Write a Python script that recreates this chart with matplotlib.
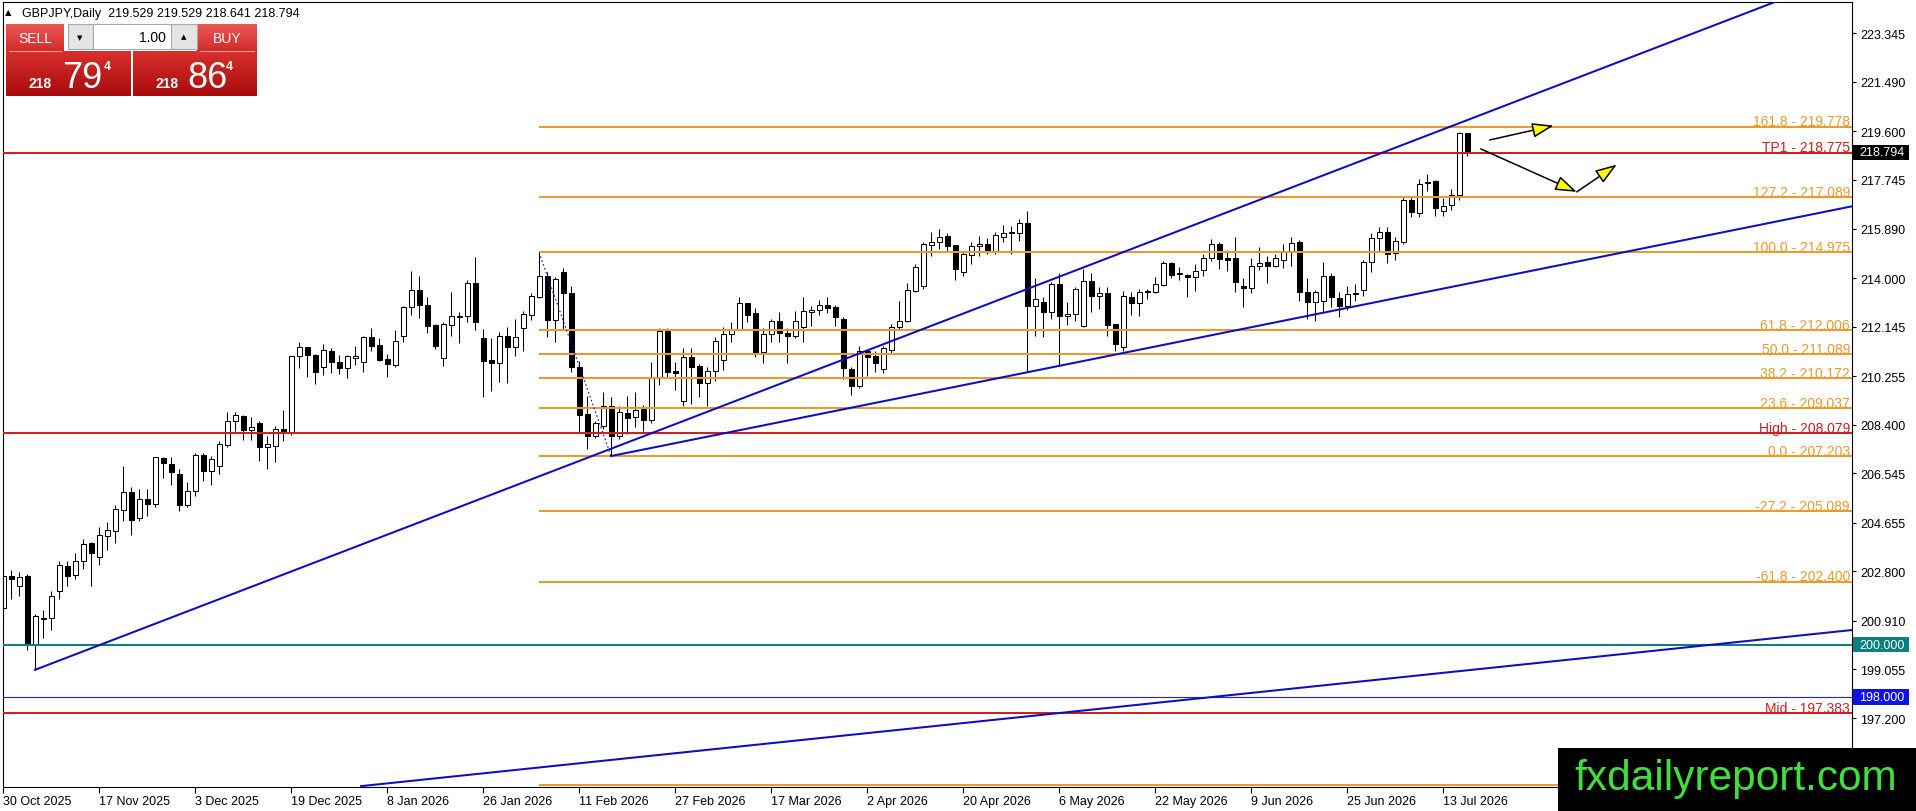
import numpy as np
import matplotlib
matplotlib.use("Agg")
import matplotlib.pyplot as plt
import matplotlib.transforms as mtransforms
from matplotlib.colors import to_rgb
from matplotlib.patches import Rectangle, FancyArrowPatch

plt.rcParams['font.family'] = ['Liberation Sans', 'DejaVu Sans']

W, H = 1916, 812

# daily GBPJPY bars (bar 0 = 30 Oct 2025)
opens = [201.39, 202.61, 202.25, 202.61, 200.03, 201.00, 201.01, 202.04, 202.99, 202.67,
         203.21, 203.88, 203.34, 204.16, 204.35, 205.15, 205.82, 204.83, 205.56, 205.38,
         207.12, 206.90, 206.51, 205.34, 205.88, 207.24, 206.64, 206.83, 207.64, 208.55,
         208.74, 208.21, 208.46, 207.56, 207.60, 208.24, 208.11, 211.04, 211.36, 211.07,
         210.61, 211.20, 210.79, 210.58, 210.94, 210.81, 211.74, 211.44, 210.91, 210.69,
         211.80, 212.88, 213.53, 212.96, 212.20, 210.96, 212.20, 212.53, 212.54, 213.80,
         211.70, 210.86, 210.74, 211.78, 211.36, 212.08, 212.60, 213.29, 214.09, 212.41,
         214.22, 213.42, 210.59, 208.81, 207.98, 208.36, 209.12, 207.96, 208.83, 208.68,
         208.99, 208.59, 210.21, 211.99, 210.46, 209.29, 210.97, 210.63, 209.98, 210.44,
         210.87, 211.86, 212.03, 213.04, 212.65, 211.19, 211.85, 212.35, 211.90, 211.80,
         212.12, 212.69, 212.79, 212.98, 212.88, 212.43, 210.53, 209.89, 211.20, 211.04,
         210.53, 211.26, 212.12, 212.35, 213.52, 213.70, 215.27, 215.39, 215.59, 215.26,
         214.22, 214.88, 215.21, 215.30, 215.00, 215.56, 215.72, 215.72, 216.10, 212.94,
         213.07, 212.69, 213.77, 212.54, 212.63, 212.18, 213.90, 213.33, 213.43, 212.24,
         211.36, 213.29, 213.04, 213.45, 213.45, 213.73, 214.57, 214.14, 214.11, 214.03,
         214.32, 214.75, 215.30, 214.75, 214.75, 213.71, 213.61, 214.47, 214.60, 214.45,
         214.70, 215.02, 215.36, 213.48, 213.07, 213.13, 214.09, 213.22, 212.94, 213.43,
         213.55, 214.62, 215.52, 215.77, 214.95, 215.36, 216.99, 216.47, 217.63, 217.69,
         216.55, 216.79, 217.18, 219.529]
highs = [203.21, 202.85, 202.79, 202.70, 201.17, 201.34, 202.05, 203.18, 203.21, 203.50,
         204.03, 203.91, 204.48, 204.67, 205.33, 206.81, 206.01, 205.94, 205.94, 207.17,
         207.15, 207.15, 206.70, 206.20, 207.32, 207.32, 207.21, 207.79, 208.87, 208.87,
         208.77, 208.68, 208.53, 207.98, 208.36, 208.96, 211.03, 211.55, 211.37, 211.10,
         211.49, 211.31, 211.06, 211.06, 211.39, 211.78, 212.08, 211.70, 211.10, 212.00,
         212.94, 214.27, 214.06, 213.26, 212.24, 212.33, 213.45, 212.71, 213.92, 214.79,
         212.05, 211.71, 211.95, 212.12, 212.44, 212.76, 213.43, 214.975, 214.22, 214.03,
         214.38, 213.71, 210.83, 209.48, 208.55, 209.64, 209.45, 209.10, 209.48, 209.64,
         209.15, 210.78, 212.08, 212.08, 210.80, 211.32, 211.32, 210.72, 210.59, 211.74,
         212.12, 212.33, 213.26, 213.06, 212.85, 212.08, 212.44, 212.69, 212.09, 212.73,
         213.26, 212.94, 213.17, 213.26, 212.97, 212.50, 210.61, 211.42, 211.26, 211.23,
         211.42, 212.24, 213.13, 213.81, 214.53, 215.36, 215.77, 215.87, 215.71, 215.28,
         215.04, 215.39, 215.62, 215.52, 215.74, 216.02, 215.97, 216.25, 216.55, 214.00,
         213.26, 213.84, 214.19, 213.07, 213.67, 214.34, 214.19, 213.65, 213.65, 212.24,
         213.52, 213.45, 213.58, 213.60, 214.03, 214.66, 214.62, 214.41, 214.15, 214.53,
         214.92, 215.49, 215.36, 215.08, 215.55, 213.99, 214.75, 215.17, 214.85, 214.92,
         215.30, 215.55, 215.45, 213.99, 213.54, 214.60, 214.19, 213.48, 213.68, 213.77,
         214.70, 215.71, 215.94, 215.94, 215.55, 217.14, 217.14, 217.78, 217.97, 217.74,
         217.04, 217.40, 219.56, 219.529]
lows = [200.92, 201.74, 201.87, 199.81, 199.04, 200.24, 200.57, 201.74, 202.25, 202.51,
        202.89, 202.25, 203.04, 203.61, 203.88, 204.73, 204.20, 204.72, 204.92, 205.27,
        206.37, 206.09, 205.12, 205.27, 205.69, 206.26, 206.09, 206.51, 207.54, 208.17,
        207.81, 207.81, 207.02, 206.70, 206.98, 207.79, 208.01, 210.56, 210.23, 209.95,
        210.30, 210.37, 210.34, 210.19, 210.69, 210.43, 211.21, 210.85, 210.23, 210.61,
        211.57, 212.59, 212.48, 211.90, 211.29, 210.64, 211.80, 211.52, 212.33, 212.03,
        209.46, 209.69, 210.02, 209.98, 211.04, 211.22, 212.41, 213.23, 211.74, 211.55,
        212.05, 210.43, 208.10, 207.47, 207.88, 208.22, 207.203, 207.85, 208.04, 208.32,
        208.17, 208.46, 209.92, 210.18, 209.73, 209.10, 209.19, 209.45, 209.12, 210.08,
        210.49, 211.55, 212.02, 212.33, 211.00, 210.74, 211.57, 211.57, 210.74, 211.70,
        211.55, 212.18, 212.59, 212.65, 212.18, 210.14, 209.54, 209.79, 210.27, 210.43,
        210.37, 211.14, 212.05, 212.32, 213.47, 213.60, 214.85, 215.11, 215.04, 213.92,
        214.09, 214.54, 214.85, 214.92, 214.92, 215.39, 214.92, 215.42, 210.40, 211.77,
        211.74, 212.43, 210.65, 212.20, 212.37, 212.14, 212.69, 212.82, 211.80, 211.22,
        211.22, 212.59, 212.56, 213.20, 213.42, 213.70, 213.99, 213.92, 213.26, 213.52,
        214.09, 214.66, 214.34, 214.28, 213.45, 212.88, 213.42, 214.32, 213.80, 214.44,
        214.37, 214.47, 213.13, 212.44, 212.37, 212.69, 212.88, 212.50, 212.79, 213.13,
        213.32, 214.24, 215.04, 214.56, 214.69, 215.30, 216.32, 216.32, 217.31, 216.38,
        216.38, 216.61, 216.98, 218.641]
closes = [202.63, 202.51, 202.57, 200.00, 201.08, 201.02, 201.85, 203.04, 202.63, 203.21,
          203.84, 203.49, 204.19, 204.38, 205.18, 205.82, 204.77, 205.56, 205.38, 207.15,
          206.92, 206.60, 205.34, 205.86, 207.24, 206.64, 207.09, 207.66, 208.55, 208.77,
          208.19, 208.30, 207.56, 207.66, 208.24, 208.11, 211.01, 211.36, 211.07, 210.43,
          211.24, 210.81, 210.58, 211.01, 211.01, 211.74, 211.42, 210.87, 210.73, 211.58,
          212.88, 213.53, 212.97, 212.18, 211.42, 212.23, 212.54, 212.55, 213.80, 212.33,
          210.84, 210.74, 211.78, 211.38, 211.74, 212.62, 213.30, 214.09, 212.41, 213.96,
          213.42, 210.59, 208.78, 207.98, 208.45, 209.12, 207.96, 208.87, 208.64, 208.97,
          208.59, 210.21, 211.96, 210.43, 210.36, 210.97, 210.61, 209.98, 210.44, 211.61,
          211.86, 212.05, 213.04, 212.60, 211.14, 211.85, 212.35, 211.90, 211.80, 212.35,
          212.73, 212.79, 212.98, 212.86, 212.50, 210.55, 209.89, 211.20, 211.00, 210.74,
          211.33, 212.12, 212.35, 213.54, 214.41, 215.30, 215.36, 215.55, 215.24, 214.34,
          214.92, 215.21, 215.30, 215.00, 215.64, 215.72, 215.75, 216.10, 212.94, 213.20,
          212.69, 213.77, 212.54, 212.63, 213.58, 213.90, 213.33, 213.43, 212.20, 211.48,
          213.30, 213.04, 213.45, 213.49, 213.77, 214.57, 214.11, 214.15, 214.03, 214.28,
          214.75, 215.30, 214.73, 214.70, 213.84, 213.61, 214.47, 214.56, 214.47, 214.75,
          215.00, 215.33, 213.48, 213.07, 213.45, 214.06, 213.26, 212.94, 213.39, 213.39,
          214.62, 215.52, 215.77, 214.92, 215.40, 216.99, 216.51, 217.59, 217.66, 216.66,
          216.76, 217.17, 219.53, 218.794]

date_labels = ["30 Oct 2025", "17 Nov 2025", "3 Dec 2025", "19 Dec 2025", "8 Jan 2026",
               "26 Jan 2026", "11 Feb 2026", "27 Feb 2026", "17 Mar 2026", "2 Apr 2026",
               "20 Apr 2026", "6 May 2026", "22 May 2026", "9 Jun 2026", "25 Jun 2026",
               "13 Jul 2026"]
date_bars = list(range(0, 181, 12))

price_ticks = [197.200, 199.055, 200.910, 202.800, 204.655, 206.545, 208.400, 210.255,
               212.145, 214.000, 215.890, 217.745, 219.600, 221.490, 223.345]

fib_ratios = ["161.8", "127.2", "100.0", "61.8", "50.0", "38.2", "23.6", "0.0",
              "-27.2", "-61.8", "-161.8"]
fib_prices = [219.778, 217.089, 214.975, 212.006, 211.089, 210.172, 209.037, 207.203,
              205.089, 202.400, 194.628]
fib_start_bar = 67
fib_hidden = ["-161.8"]   # its label sits under the logo

red_names = ["TP1", "High", "Mid"]
red_prices = [218.775, 208.079, 197.383]

round_levels = [200.000, 198.000]
last_price = 218.794
header = "GBPJPY,Daily  219.529 219.529 218.641 218.794"

upper_trend = [(4, 199.04), (128, 213.58)]
lower_trend = [(76, 207.203), (128, 210.40)]
long_trend = [(44.75, 194.60), (231.1, 200.56)]
fib_base = [(67, 214.975), (76, 207.203)]

arrow_paths = [[(185.8, 219.27), (193.8, 219.82)],
               [(184.7, 218.93), (196.7, 217.29)],
               [(196.7, 217.29), (201.7, 218.33)]]

ORANGE = '#eb9a2e'
RED = '#d41e1e'
BLUE = '#0c0cc4'
TEAL = '#0a8080'

fig = plt.figure(figsize=(W / 100, H / 100), dpi=100)
fig.patch.set_facecolor('white')
ax = fig.add_axes([2.7 / W, (H - 787.7) / H, (1852 - 2.7) / W, (787.7 - 2.7) / H])
ax.set_facecolor('white')
XMIN, XMAX = -0.04, 231.1
ax.set_xlim(XMIN, XMAX)
ax.set_ylim(194.578, 224.551)

# candles
idx = np.arange(len(opens))
o = np.array(opens); c = np.array(closes)
ax.vlines(idx, lows, highs, color='black', lw=0.75, zorder=2)
bull = c >= o
body_low = np.minimum(o, c)
body_h = np.maximum(np.abs(c - o), 0.035)
ax.bar(idx, body_h, bottom=body_low, width=0.62,
       color=np.where(bull, 'white', 'black'), edgecolor='black', linewidth=0.75, zorder=2.1)

blend = mtransforms.blended_transform_factory(ax.transAxes, ax.transData)

# fibonacci levels
for r, p in zip(fib_ratios, fib_prices):
    ax.plot([fib_start_bar, XMAX], [p, p], color=ORANGE, lw=1.45, zorder=3, solid_capstyle='butt')
    if r in fib_hidden:
        continue
    ax.annotate(f"{r} - {p:.3f}", xy=(1, p), xycoords=blend, xytext=(-2, 1.5),
                textcoords='offset pixels', ha='right', va='baseline', color=ORANGE,
                fontsize=10, zorder=4)
ax.plot(*zip(*fib_base), color=BLUE, lw=0.8, ls=(0, (1.5, 2.2)), zorder=3)

# red levels
for n, p in zip(red_names, red_prices):
    ax.axhline(p, color=RED, lw=1.45, zorder=3)
    ax.annotate(f"{n} - {p:.3f}", xy=(1, p), xycoords=blend, xytext=(-2, 1.5),
                textcoords='offset pixels', ha='right', va='baseline', color=RED,
                fontsize=10, zorder=4)

ax.axhline(round_levels[0], color=TEAL, lw=1.45, zorder=3)
ax.axhline(round_levels[1], color='#2020e0', lw=0.8, zorder=3)


def ray(pts, x_end):
    (x0, y0), (x1, y1) = pts
    k = (y1 - y0) / (x1 - x0)
    return [x0, x_end], [y0, y0 + k * (x_end - x0)]


for tl in (upper_trend, lower_trend, long_trend):
    xs, ys = ray(tl, XMAX + 5)
    ax.plot(xs, ys, color=BLUE, lw=1.45, zorder=3)

for a, b in arrow_paths:
    ax.add_patch(FancyArrowPatch(a, b, arrowstyle='-|>,head_length=1.1,head_width=0.38',
                                 mutation_scale=12, fc='#ffff00', ec='black', lw=1.1,
                                 shrinkA=0, shrinkB=0, zorder=5))

# axes styling
for s in ax.spines.values():
    s.set_linewidth(0.8)
    s.set_color('black')
    s.set_zorder(2.5)
ax.yaxis.tick_right()
ax.set_yticks(price_ticks)
ax.set_yticklabels([f"{t:.3f}" for t in price_ticks])
ax.set_xticks(date_bars)
ax.set_xticklabels(date_labels, ha='left')
ax.tick_params(axis='y', direction='out', length=3, width=0.8, pad=3, labelsize=9)
ax.tick_params(axis='x', direction='out', length=4, width=0.8, pad=2, labelsize=9)

# price boxes on the scale
px = 1 / (1852 - 2.7)
for p, fc in ((last_price, 'black'), (round_levels[0], TEAL), (round_levels[1], '#1010e8')):
    ax.add_patch(Rectangle((1 + 1.5 * px, p - 0.29), 56 * px, 0.58, transform=blend,
                           fc=fc, ec='none', clip_on=False, zorder=6))
    ax.text(1 + 7 * px, p, f"{p:.3f}", transform=blend, color='white', fontsize=9,
            va='center', ha='left', clip_on=False, zorder=7)

# overlay in pixel units: trade panel and logo
ov = fig.add_axes([0, 0, 1, 1], zorder=10)
ov.set_xlim(0, W)
ov.set_ylim(H, 0)
ov.set_autoscale_on(False)
ov.axis('off')


def grad_box(x0, y0, x1, y1, top, bottom):
    g = np.linspace(0, 1, 64)[:, None, None]
    c0 = np.array(to_rgb(top)); c1 = np.array(to_rgb(bottom))
    img = c0 + (c1 - c0) * g
    ov.imshow(img, extent=(x0, x1, y1, y0), aspect='auto', interpolation='bilinear', zorder=1)


ov.text(5, 13, "▲", fontsize=6, va='center', ha='left', family=['DejaVu Sans'])
ov.text(22, 13.5, header, fontsize=9, va='center', ha='left')

grad_box(6, 25, 64, 52, '#ea5a56', '#d42a2a')
grad_box(197, 25, 257, 52, '#ea5a56', '#d42a2a')
grad_box(6, 52, 131, 97, '#d9302c', '#a60c0c')
grad_box(133, 52, 257, 97, '#d9302c', '#a60c0c')
ov.plot([9, 61], [52, 52], color='#f0a0a0', lw=0.8)
ov.plot([200, 254], [52, 52], color='#f0a0a0', lw=0.8)
ov.add_patch(Rectangle((68, 25), 25, 25, fc='#e4e4e4', ec='#a8a8a8', lw=0.8))
ov.add_patch(Rectangle((93, 25), 78, 25, fc='white', ec='#a8a8a8', lw=0.8))
ov.add_patch(Rectangle((171, 25), 26, 25, fc='#e4e4e4', ec='#a8a8a8', lw=0.8))
ov.text(80, 38, "▼", fontsize=5, ha='center', va='center', family=['DejaVu Sans'])
ov.text(184, 37, "▲", fontsize=5, ha='center', va='center', family=['DejaVu Sans'])
ov.text(166, 38, "1.00", fontsize=10, ha='right', va='center')
ov.text(35, 39, "SELL", fontsize=10, color='white', ha='center', va='center')
ov.text(227, 39, "BUY", fontsize=10, color='white', ha='center', va='center')

for x_small, x_big, x_sup, big in ((29, 62, 104, "79"), (156, 187, 226, "86")):
    ov.text(x_small, 88, "218", fontsize=10, fontweight='bold', color='white', va='baseline')
    ov.text(x_big, 88, big, fontsize=26, color='white', va='baseline')
    ov.text(x_sup, 70, "4", fontsize=9, fontweight='bold', color='white', va='baseline')

ov.add_patch(Rectangle((1558, 749), W - 1558, H - 749, fc='black', ec='none', zorder=5))
ov.text(1736, 790, "fxdailyreport.com", fontsize=30.5, color='#3ee03a', ha='center',
        va='baseline', zorder=6)

fig.savefig("out.png", dpi=100)
